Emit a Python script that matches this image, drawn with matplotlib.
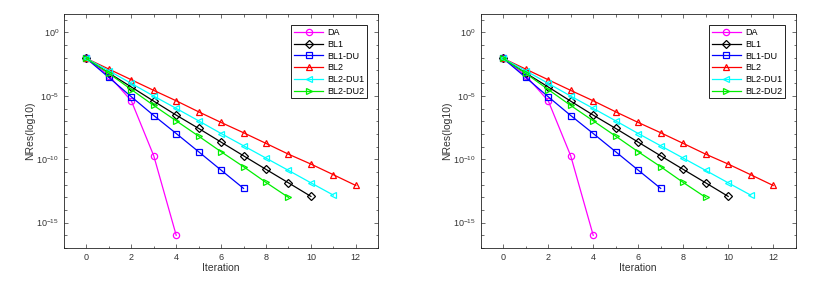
import matplotlib
matplotlib.use('Agg')
import matplotlib.pyplot as plt
from matplotlib.ticker import NullFormatter, FixedLocator
import numpy as np

# log10 of the residual
da = [-2.05, -3.4, -5.39, -9.73, -16.0]
bl1 = [-2.05, -3.2, -4.3, -5.42, -6.52, -7.57, -8.65, -9.73, -10.80, -11.86, -12.93]
bl1_du = [-2.05, -3.55, -5.07, -6.55, -7.97, -9.41, -10.86, -12.30]
bl2 = [-2.05, -2.89, -3.73, -4.57, -5.39, -6.26, -7.10, -7.91, -8.75, -9.60, -10.38, -11.22, -12.07]
bl2_du1 = [-2.05, -3.02, -4.02, -5.02, -5.99, -6.97, -7.97, -8.94, -9.91, -10.88, -11.86, -12.83]
bl2_du2 = [-2.05, -3.23, -4.50, -5.76, -6.97, -8.18, -9.41, -10.59, -11.83, -13.01]

series = [
    ('DA', da, '#ff00ff', 'o'),
    ('BL1', bl1, 'black', 'D'),
    ('BL1-DU', bl1_du, 'blue', 's'),
    ('BL2', bl2, 'red', '^'),
    ('BL2-DU1', bl2_du1, 'cyan', '<'),
    ('BL2-DU2', bl2_du2, '#00ee00', '>'),
]

plt.rcParams['font.family'] = ['Liberation Sans', 'DejaVu Sans']

fig = plt.figure(figsize=(8.18, 2.83), dpi=100)
ax1 = fig.add_axes([0.0782, 0.1237, 0.3842, 0.827])
ax2 = fig.add_axes([0.5877, 0.1237, 0.385, 0.827])

for ax in (ax1, ax2):
    for name, vals, col, mk in series:
        it = np.arange(len(vals))
        ms = 3.8 if mk in ('D', 's') else 4.5
        ax.semilogy(it, 10.0 ** np.array(vals), color=col, marker=mk, markersize=ms,
                    markerfacecolor='none', markeredgecolor=col, linewidth=0.9,
                    markeredgewidth=0.9, label=name)
    ax.set_xlim(-1, 13)
    ax.set_ylim(10 ** -17.0, 10 ** 1.46)
    ax.set_xticks([0, 2, 4, 6, 8, 10, 12])
    ax.set_yticks([1e-15, 1e-10, 1e-5, 1e0])
    ax.yaxis.set_minor_locator(FixedLocator([10.0 ** k for k in range(-17, 2)]))
    ax.yaxis.set_minor_formatter(NullFormatter())
    ax.xaxis.set_minor_locator(FixedLocator(np.arange(-1, 14, 1)))
    ax.tick_params(which='both', direction='in', top=True, right=True,
                   labelsize=6.5, width=0.5, colors='#333333')
    ax.tick_params(which='major', length=3)
    ax.tick_params(which='minor', length=1.8)
    for s in ax.spines.values():
        s.set_linewidth(0.6)
        s.set_color('#222222')
    ax.set_xlabel('Iteration', fontsize=7.5, labelpad=1, color='#333333')
    ax.set_ylabel('NRes(log10)', fontsize=7.5, labelpad=1, color='#333333')
    leg = ax.legend(loc='upper right', fontsize=6.5, handlelength=3.2,
                    fancybox=False, edgecolor='black', borderpad=0.3,
                    labelspacing=0.3, bbox_to_anchor=(0.98, 0.97),
                    framealpha=1, handletextpad=0.5)
    leg.get_frame().set_linewidth(0.6)

fig.savefig('out.png', dpi=100)
